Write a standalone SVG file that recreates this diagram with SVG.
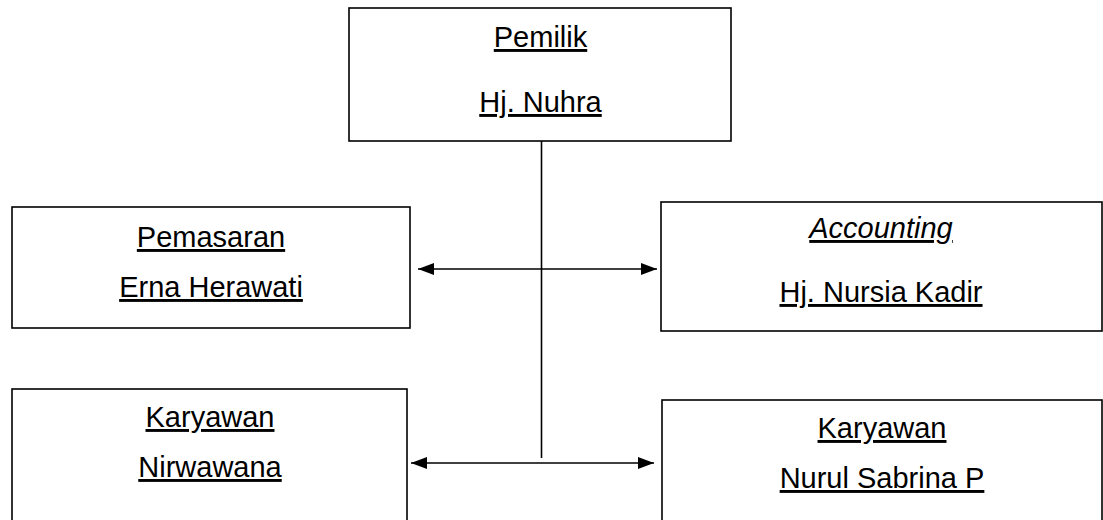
<svg xmlns="http://www.w3.org/2000/svg" width="1103" height="520" viewBox="0 0 1103 520">
<style>
.box{fill:#fff;stroke:#000;stroke-width:1.6}
.t{font-family:"Liberation Sans",Arial,sans-serif;font-size:29px;fill:#000;text-anchor:middle;text-decoration:underline}
.i{font-style:italic}
.c{stroke:#000;stroke-width:1.6;fill:none}
</style>
<defs>
<marker id="ah" markerUnits="userSpaceOnUse" markerWidth="18" markerHeight="14" refX="16" refY="6" orient="auto-start-reverse">
<path d="M0,0 L16,6 L0,12 Z" fill="#000"/>
</marker>
</defs>
<rect width="1103" height="520" fill="#fff"/>
<g id="connectors">
<line class="c" x1="541.5" y1="141" x2="541.5" y2="458"/>
<line class="c" x1="418" y1="269" x2="657" y2="269" marker-start="url(#ah)" marker-end="url(#ah)"/>
<line class="c" x1="411" y1="463" x2="654" y2="463" marker-start="url(#ah)" marker-end="url(#ah)"/>
</g>
<g id="pemilik">
<rect class="box" x="349" y="8" width="382" height="133"/>
<text class="t" x="540.5" y="47">Pemilik</text>
<text class="t" x="540.5" y="112">Hj. Nuhra</text>
</g>
<g id="pemasaran">
<rect class="box" x="12" y="207" width="398" height="121"/>
<text class="t" x="211" y="247">Pemasaran</text>
<text class="t" x="211" y="297">Erna Herawati</text>
</g>
<g id="accounting">
<rect class="box" x="661" y="202" width="441" height="129"/>
<text class="t i" x="881" y="238">Accounting</text>
<text class="t" x="881" y="302">Hj. Nursia Kadir</text>
</g>
<g id="karyawan1">
<rect class="box" x="12" y="389" width="395" height="140"/>
<text class="t" x="210" y="427">Karyawan</text>
<text class="t" x="210" y="477">Nirwawana</text>
</g>
<g id="karyawan2">
<rect class="box" x="662" y="400" width="440" height="130"/>
<text class="t" x="882" y="438">Karyawan</text>
<text class="t" x="882" y="488">Nurul Sabrina P</text>
</g>
</svg>
